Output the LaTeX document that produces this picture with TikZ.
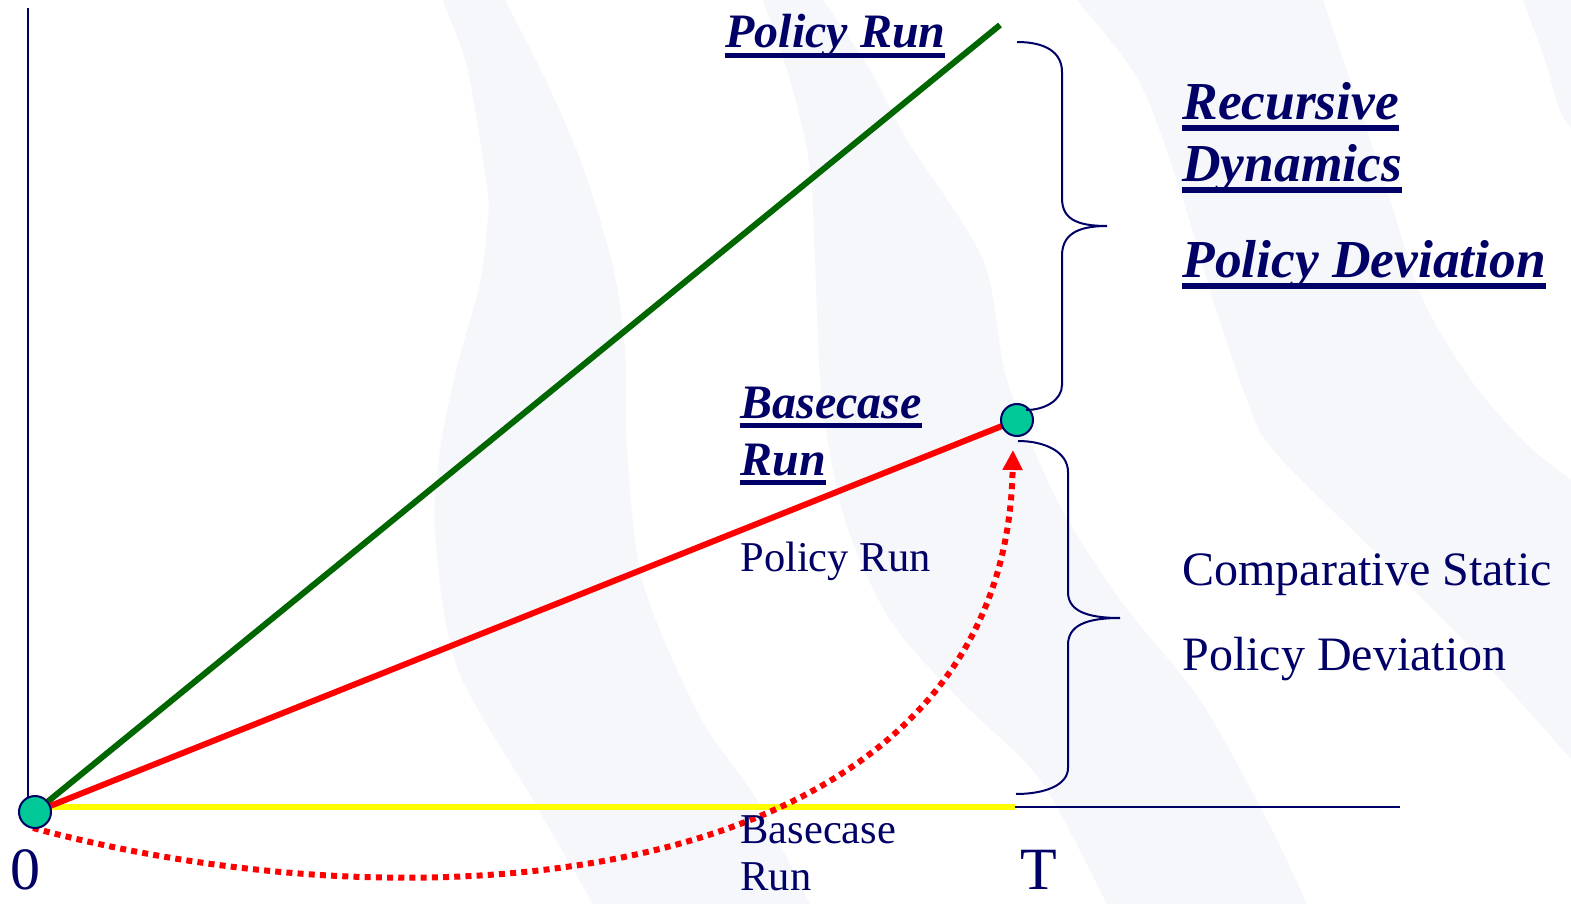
\documentclass[tikz,border=0pt]{standalone}
\usepackage{fontspec}
\setmainfont{Liberation Serif}
\usetikzlibrary{arrows.meta}
\definecolor{navy}{RGB}{0,0,102}
\definecolor{dkgreen}{RGB}{0,102,0}
\definecolor{pred}{RGB}{255,0,0}
\definecolor{pyellow}{RGB}{255,255,0}
\definecolor{teal}{RGB}{0,200,150}
\definecolor{bgband}{RGB}{246,247,250}
\newsavebox\ulbx
\newcommand\pul[1]{\sbox\ulbx{#1}\rlap{\rule[-0.2em]{\wd\ulbx}{0.1em}}\usebox\ulbx}
\newcommand\fsz[1]{\fontsize{#1}{#1}\selectfont}
\begin{document}
\begin{tikzpicture}[x=0.5pt,y=-0.5pt,
  lbl/.style={anchor=base west, inner sep=0pt, text=navy},
  bilbl/.style={lbl, font=\fsz{24}\bfseries\itshape},
  birlbl/.style={lbl, font=\fsz{26.7}\bfseries\itshape},
  midlbl/.style={lbl, font=\fsz{21.25}},
  rlbl/.style={lbl, font=\fsz{24}},
  axlbl/.style={lbl, font=\fsz{30}},
  axisline/.style={draw=navy, line width=1pt},
  runline/.style={line width=3pt},
  dotline/.style={draw=pred, line width=3pt, dash pattern=on 3pt off 2.6pt, -{Triangle[length=10pt,width=9.5pt]}},
  dotnode/.style={circle, fill=teal, draw=navy, line width=1pt, minimum size=16pt, inner sep=0pt},
  bracepath/.style={draw=navy, line width=1pt}]
\useasboundingbox (0,0) rectangle (1571,904);
\fill[white] (0,0) rectangle (1571,904);
% faint background bands
\begin{scope}
\clip (0,0) rectangle (1571,904);
\fill[bgband] plot[smooth] coordinates {(441,-20) (443,0) (467,67) (487,187) (488,217) (480,283) (457,367) (440,450) (435,533) (457,667) (533,800) (593,904) (605,930)}
  -- plot[smooth] coordinates {(825,930) (810,904) (757,800) (700,717) (643,583) (627,450) (625,350) (613,267) (583,167) (547,83) (505,0) (495,-20)} -- cycle;
\fill[bgband] plot[smooth] coordinates {(757,-20) (763,0) (790,80) (810,167) (815,260) (822,400) (845,520) (890,620) (960,700) (1040,780) (1107,904) (1120,930)}
  -- plot[smooth] coordinates {(1320,930) (1307,904) (1267,820) (1200,700) (1120,600) (1057,500) (1007,380) (983,260) (907,140) (870,70) (823,0) (810,-20)} -- cycle;
\fill[bgband] plot[smooth] coordinates {(1060,-20) (1077,0) (1140,83) (1183,200) (1213,300) (1247,400) (1273,450) (1373,550) (1473,650) (1563,750) (1600,790)}
  -- (1650,790) -- (1650,500)
  -- plot[smooth] coordinates {(1600,500) (1533,450) (1473,383) (1423,300) (1390,200) (1357,100) (1323,0) (1318,-20)} -- cycle;
\fill[bgband] plot[smooth] coordinates {(1517,-20) (1523,0) (1545,60) (1563,117) (1600,160)} -- (1650,160) -- (1650,-20) -- cycle;
\end{scope}
% coordinates
\coordinate (ytop) at (28,8);
\coordinate (ybot) at (28,800);
\coordinate (O) at (35,812);
\coordinate (E) at (1017,420);
\coordinate (gtop) at (1000,25);
\coordinate (y1) at (40,807);
\coordinate (y2) at (1015,807);
\coordinate (x2) at (1400,807);
\coordinate (ds) at (33,828);
\coordinate (dc1) at (450,940);
\coordinate (dc2) at (1005,880);
\coordinate (da) at (1013,450);
% axes
\draw[axisline] (ytop) -- (ybot);
\draw[axisline] (y2) -- (x2);
\draw[draw=pyellow, line width=3pt] (y1) -- (y2);
% runs
\draw[runline, draw=dkgreen] (O) -- (gtop);
\draw[runline, draw=pred] (O) -- (E);
\draw[dotline] (ds) .. controls (dc1) and (dc2) .. (da);
\node[dotnode] (o) at (O) {};
\node[dotnode] (e) at (E) {};
% braces
\draw[bracepath] (1017,42) .. controls (1045,42) and (1062,52) .. (1062,72) -- (1062,198)
  .. controls (1062,218) and (1075,226) .. (1107,226)
  .. controls (1075,226) and (1062,236) .. (1062,256) -- (1062,385)
  .. controls (1062,400) and (1045,410) .. (1026,410);
\draw[bracepath] (1018,441) .. controls (1045,441) and (1068,452) .. (1068,472) -- (1068,592)
  .. controls (1068,610) and (1085,618) .. (1120,618)
  .. controls (1085,618) and (1068,626) .. (1068,645) -- (1068,768)
  .. controls (1068,785) and (1045,794) .. (1016,794);
% labels
\node[bilbl] (tpr) at (725,48) {\pul{Policy Run}};
\node[bilbl] (tb1) at (740,418) {\pul{Basecase}};
\node[bilbl] (tb2) at (740,475) {\pul{Run}};
\node[midlbl] (mpr) at (740,571) {Policy Run};
\node[midlbl] (mb1) at (740,843) {Basecase};
\node[midlbl] (mb2) at (740,890) {Run};
\node[birlbl] (rr1) at (1182,120) {\pul{Recursive}};
\node[birlbl] (rr2) at (1182,182) {\pul{Dynamics}};
\node[birlbl] (rr3) at (1182,278) {\pul{Policy Deviation}};
\node[rlbl] (rc1) at (1182,585) {Comparative Static};
\node[rlbl] (rc2) at (1182,670) {Policy Deviation};
\node[axlbl] (zero) at (10,889) {0};
\node[axlbl] (tT) at (1020,889) {T};
\end{tikzpicture}
\end{document}
